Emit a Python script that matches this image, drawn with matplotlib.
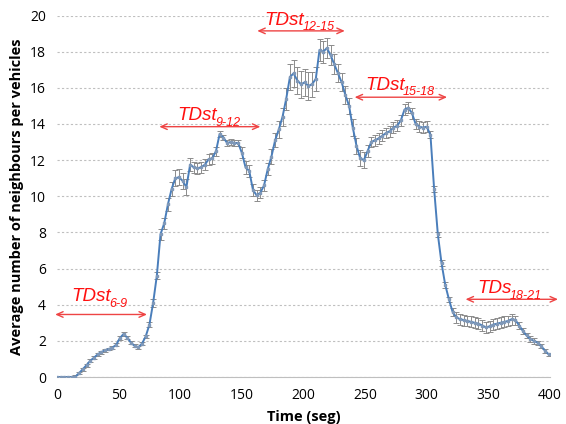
import numpy as np
import matplotlib
matplotlib.use('Agg')
import matplotlib.pyplot as plt

# average neighbours per vehicle, read every 3 s from the figure
time = np.arange(0, 400, 3)
avg = [0, 0, 0, 0, 0, 0.02, 0.22, 0.44, 0.66, 0.9,
       1.07, 1.25, 1.38, 1.48, 1.55, 1.63, 1.78, 2.15, 2.38, 2.18,
       1.9, 1.72, 1.65, 1.85, 2.25, 2.9, 4.1, 5.6, 7.9, 8.5,
       9.55, 10.4, 11.0, 11.05, 10.85, 10.5, 11.75, 11.6, 11.55, 11.6,
       11.75, 12.05, 12.1, 12.5, 13.45, 13.25, 12.95, 13.0, 12.95, 12.95,
       12.4, 11.6, 11.4, 10.35, 10.05, 10.2, 10.6, 11.5, 12.2, 13.1,
       13.7, 14.4, 15.4, 16.6, 16.8, 16.4, 16.2, 16.3, 16.1, 16.2,
       16.5, 18.1, 18.0, 18.2, 17.8, 17.3, 16.8, 16.3, 15.6, 15.0,
       13.8, 12.8, 12.1, 12.0, 12.5, 13.0, 13.1, 13.2, 13.35, 13.5,
       13.6, 13.8, 13.9, 14.2, 14.8, 14.9, 14.6, 14.0, 13.85, 13.8,
       13.85, 13.4, 10.4, 7.9, 6.3, 5.1, 4.3, 3.6, 3.3, 3.2,
       3.15, 3.1, 3.05, 3.0, 2.95, 2.85, 2.75, 2.8, 2.9, 2.95,
       3.0, 3.05, 3.1, 3.2, 3.15, 2.85, 2.55, 2.3, 2.1, 2.0,
       1.9, 1.7, 1.45, 1.25]
err = [0.05, 0.05, 0.05, 0.05, 0.05, 0.08, 0.08, 0.08, 0.08, 0.08,
       0.08, 0.08, 0.08, 0.08, 0.08, 0.08, 0.08, 0.1, 0.1, 0.1,
       0.08, 0.08, 0.08, 0.1, 0.1, 0.15, 0.2, 0.2, 0.3, 0.3,
       0.35, 0.4, 0.45, 0.45, 0.45, 0.45, 0.35, 0.3, 0.3, 0.3,
       0.3, 0.3, 0.3, 0.25, 0.15, 0.15, 0.15, 0.15, 0.15, 0.15,
       0.3, 0.35, 0.35, 0.35, 0.3, 0.3, 0.3, 0.35, 0.4, 0.4,
       0.45, 0.5, 0.6, 0.7, 0.75, 0.75, 0.75, 0.75, 0.75, 0.7,
       0.65, 0.6, 0.6, 0.55, 0.55, 0.55, 0.5, 0.5, 0.5, 0.45,
       0.45, 0.45, 0.45, 0.45, 0.35, 0.3, 0.3, 0.3, 0.3, 0.3,
       0.3, 0.3, 0.3, 0.3, 0.3, 0.3, 0.3, 0.3, 0.3, 0.3,
       0.3, 0.2, 0.15, 0.15, 0.15, 0.15, 0.15, 0.2, 0.3, 0.3,
       0.3, 0.3, 0.3, 0.3, 0.3, 0.3, 0.3, 0.3, 0.3, 0.3,
       0.3, 0.3, 0.3, 0.3, 0.25, 0.2, 0.15, 0.15, 0.15, 0.15,
       0.12, 0.12, 0.1, 0.1]

# phase annotations
phases = ['TDst', 'TDst', 'TDst', 'TDst', 'TDs']
subs = ['6-9', '9-12', '12-15', '15-18', '18-21']
arrow_t0 = [-1.5, 83, 162.5, 241.5, 331.5]
arrow_t1 = [73, 165, 233.5, 316.5, 406.5]
arrow_y = [3.46, 13.85, 19.15, 15.48, 4.3]
text_t = [12, 98, 168.5, 250, 341]
text_y = [4.2, 14.2, 19.5, 15.9, 4.65]

plt.rcParams['font.family'] = ['Open Sans', 'DejaVu Sans']

fig = plt.figure(figsize=(5.66, 4.24), dpi=100)
ax = fig.add_axes([0.1007, 0.1108, 0.8710, 0.8526])

ax.errorbar(time, avg, yerr=err, color='#4A7EBB', lw=1.4,
            marker='s', ms=2, mfc='#7F98B8', mec='#7F98B8',
            ecolor='#8C8C8C', elinewidth=0.7, capsize=2, capthick=0.7, zorder=3)

ax.set_xlim(0, 400)
ax.set_ylim(0, 20)
ax.set_xticks(range(0, 401, 50))
ax.set_yticks(range(0, 21, 2))
ax.yaxis.grid(True, ls=(0, (2, 2)), color='#BFBFBF', lw=0.8)
ax.set_axisbelow(True)
for side in ['top', 'right', 'left']:
    ax.spines[side].set_visible(False)
ax.spines['bottom'].set_color('#BFBFBF')
ax.tick_params(length=0, labelsize=10, pad=8)
ax.set_xlabel('Time (seg)', fontsize=10.5, fontweight='bold', labelpad=5)
ax.set_ylabel('Average number of neighbours per vehicles', fontsize=10.5, fontweight='bold', labelpad=4)

main_texts = []
for lab, a0, a1, ay, tx, ty in zip(phases, arrow_t0, arrow_t1, arrow_y, text_t, text_y):
    ax.annotate('', xy=(a0, ay), xytext=(a1, ay),
                arrowprops=dict(arrowstyle='<->,head_length=0.45,head_width=0.2',
                                color='#EE4444', lw=1, shrinkA=0, shrinkB=0),
                annotation_clip=False)
    t = ax.text(tx, ty, lab, color='#FF1010', fontsize=13.5, style='italic',
                family='Liberation Sans', ha='left', va='baseline', clip_on=False)
    main_texts.append(t)

fig.canvas.draw()
renderer = fig.canvas.get_renderer()
for t, s, tx, ty in zip(main_texts, subs, text_t, text_y):
    w = t.get_window_extent(renderer).width * 72 / fig.dpi
    ax.annotate(s, xy=(tx, ty), xytext=(w - 1.5, -4), textcoords='offset points',
                color='#FF1010', fontsize=9, style='italic', family='Liberation Sans',
                ha='left', va='baseline', annotation_clip=False)

fig.savefig('out.png', dpi=100)
